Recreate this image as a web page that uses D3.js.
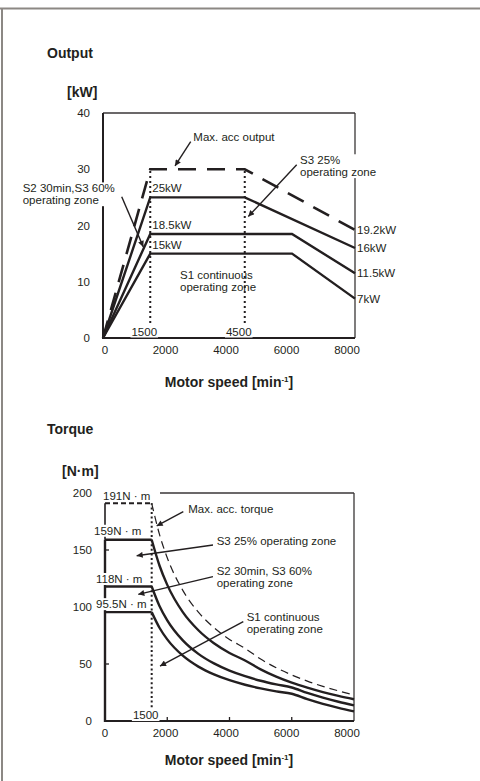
<!DOCTYPE html>
<html><head><meta charset="utf-8">
<script src="https://cdn.jsdelivr.net/npm/d3@7"></script>
<style>
body{margin:0;background:#fff}
svg{display:block}
text{font-family:"Liberation Sans",Arial,sans-serif;fill:#231f20}
</style>
</head><body>
<svg id="c" width="480" height="781"></svg>
<script>
// ---------- data ----------
const speedTicks = [0, 2000, 4000, 6000, 8000];
const outYTicks = [0, 10, 20, 30, 40];
const tqYTicks = [0, 50, 100, 150, 200];

// Output [min-1, kW]
const outMax = [[0,0],[1500,30],[4500,30],[8000,19.2]];
const outS3  = [[0,0],[1500,25],[4500,25],[8000,16]];
const outS2  = [[0,0],[1500,18.5],[6000,18.5],[8000,11.5]];
const outS1  = [[0,0],[1500,15],[6000,15],[8000,7]];
const outMarks = [1500, 4500];

// Torque [N·m] at speeds
const tqSpeeds = [1500,1750,2000,2500,3000,3500,4000,4500,5000,5500,6000,6500,7000,7500,8000];
const tqMax = [191,163.7,143.2,114.6,95.5,81.9,71.6,63.7,54.3,46.7,40.4,35.0,30.4,26.4,22.9];
const tqS3  = [159,136.4,119.4,95.5,79.6,68.2,59.7,53.1,45.3,38.9,33.6,29.2,25.3,22.0,19.1];
const tqS2  = [118,100.9,88.3,70.7,58.9,50.5,44.2,39.3,35.3,32.1,29.4,24.6,20.5,16.9,13.7];
const tqS1  = [95.5,81.8,71.6,57.3,47.7,40.9,35.8,31.8,28.6,26.0,23.9,19.1,15.0,11.5,8.4];
const tqLabels = ['191N · m','159N · m','118N · m','95.5N · m'];
const tqMark = 1500;

// annotations: [text lines], text pos (data), arrow from / to (data)
const outNotes = [
  {lines:['Max. acc output'], at:[2867,35.7], from:[2784,34.9], to:[2286,30.6]},
  {lines:['S3 25%','operating zone'], at:[6254,31.6], from:[6149,30.8], to:[4613,21.6], bg:true},
  {lines:['S2 30min,S3 60%','operating zone'], at:[-2549,26.6], from:[594,25.1], to:[1279,16.2], bg:true},
  {lines:['S1 continuous','operating zone'], at:[2444,11.2]}
];
const tqNotes = [
  {lines:['Max. acc. torque'], at:[2676,185.7], from:[2516,183.6], to:[1661,171.1]},
  {lines:['S3 25% operating zone'], at:[3589,158.2], from:[3470,154.4], to:[1018,145]},
  {lines:['S2 30min, S3 60%','operating zone'], at:[3589,131.8], from:[3470,126.6], to:[1070,111.1]},
  {lines:['S1 continuous','operating zone'], at:[4553,91.0], from:[4443,87.1], to:[1767,48.2]}
];

// ---------- drawing ----------
const INK = '#231f20';
const svg = d3.select('#c');
const defs = svg.append('defs');
defs.append('marker').attr('id','ah').attr('viewBox','0 0 10 10')
  .attr('refX',10).attr('refY',5).attr('markerWidth',9).attr('markerHeight',6)
  .attr('markerUnits','userSpaceOnUse').attr('orient','auto')
  .append('path').attr('d','M0,0L10,5L0,10z').attr('fill',INK);

// page frame
svg.append('line').attr('x1',0).attr('x2',480).attr('y1',8.5).attr('y2',8.5)
  .attr('stroke','#8c8884').attr('stroke-width',2);
svg.append('line').attr('x1',2).attr('x2',2).attr('y1',8).attr('y2',781)
  .attr('stroke','#8c8884').attr('stroke-width',2);

function addText(g, x, y, lines, o = {}) {
  const size = o.size || 11.5, lh = o.lh || 11.8;
  const t = g.append('text').attr('x', x).attr('y', y)
    .attr('font-size', size).attr('font-weight', o.weight || 'normal')
    .attr('text-anchor', o.anchor || 'start');
  lines.forEach((s, i) => t.append('tspan').attr('x', x)
    .attr('dy', i === 0 ? '0.35em' : lh).text(s));
  if (o.bg) {
    const b = t.node().getBBox();
    g.insert('rect', () => t.node()).attr('x', b.x - 1).attr('y', b.y)
      .attr('width', b.width + 2).attr('height', b.height).attr('fill', '#fff');
  }
  return t;
}
function arrow(g, x1, y1, x2, y2) {
  g.append('line').attr('x1',x1).attr('y1',y1).attr('x2',x2).attr('y2',y2)
    .attr('stroke',INK).attr('stroke-width',1.4).attr('marker-end','url(#ah)');
}
function xTitle(g, cx, y) {
  const t = g.append('text').attr('x',cx).attr('y',y).attr('dy','0.35em')
    .attr('text-anchor','middle').attr('font-size',14).attr('font-weight','bold');
  t.append('tspan').text('Motor speed [min');
  t.append('tspan').attr('font-size',8).attr('dy',-5).text('-1');
  t.append('tspan').attr('dy',5).text(']');
}
function frame(g, x, y, xd, yd, opts) {
  const [x0,x1] = xd.map(x), [y0,y1] = yd.map(y);
  g.append('line').attr('x1',opts.topStart ?? x0).attr('x2',x1).attr('y1',y1).attr('y2',y1)
    .attr('stroke','#3a3637').attr('stroke-width',1.3);
  g.append('line').attr('x1',x1).attr('x2',x1).attr('y1',y1).attr('y2',y0)
    .attr('stroke','#3a3637').attr('stroke-width',1.3);
  g.append('line').attr('x1',x0-1).attr('x2',x1).attr('y1',y0).attr('y2',y0)
    .attr('stroke',INK).attr('stroke-width',2.2);
}

// ================= OUTPUT =================
{
  const g = svg.append('g');
  const x = d3.scaleLinear([0, 8000], [103, 355]);
  const xl = d3.scaleLinear([0, 8000], [105, 347]);
  const y = d3.scaleLinear([0, 40], [338, 113]);

  addText(g, 47, 53, ['Output'], {size:14, weight:'bold'});
  addText(g, 67, 92, ['[kW]'], {size:14, weight:'bold'});

  frame(g, x, y, [0,8000], [0,40], {});
  g.append('line').attr('x1',x(0)).attr('x2',x(0)).attr('y1',y(0)).attr('y2',y(40))
    .attr('stroke',INK).attr('stroke-width',2);

  outYTicks.forEach(v => addText(g, 90, y(v), [String(v)], {anchor:'end'}));
  speedTicks.forEach(v => addText(g, xl(v), 350, [String(v)], {anchor:'middle'}));

  // dotted markers
  outMarks.forEach(m => {
    g.append('line').attr('x1',x(m)).attr('x2',x(m)).attr('y1',y(0)).attr('y2',y(30))
      .attr('stroke',INK).attr('stroke-width',2).attr('stroke-dasharray','2,3');
    addText(g, x(m) - 6, 331.5, [String(m)], {anchor:'middle', bg:true});
  });

  const line = d3.line().x(d => x(d[0])).y(d => y(d[1]));
  [outS1, outS2, outS3].forEach(s => g.append('path').attr('d', line(s))
    .attr('fill','none').attr('stroke',INK).attr('stroke-width',2.4).attr('stroke-linejoin','miter'));
  g.append('path').attr('d', line(outMax)).attr('fill','none').attr('stroke',INK)
    .attr('stroke-width',2.6).attr('stroke-dasharray','18,11');

  // value labels
  [outS3, outS2, outS1].forEach(s => {
    addText(g, x(1500) + 2, y(s[1][1]) - 9, [s[1][1] + 'kW']);
  });
  [outMax, outS3, outS2, outS1].forEach(s => {
    const e = s[s.length - 1];
    addText(g, x(8000) + 2, y(e[1]), [e[1] + 'kW']);
  });

  outNotes.forEach(n => {
    addText(g, x(n.at[0]), y(n.at[1]), n.lines, {bg: n.bg});
    if (n.from) arrow(g, x(n.from[0]), y(n.from[1]), x(n.to[0]), y(n.to[1]));
  });

  xTitle(g, 229, 382);
}

// ================= TORQUE =================
{
  const g = svg.append('g');
  const x = d3.scaleLinear([0, 8000], [105, 354]);
  const xl = d3.scaleLinear([0, 8000], [105, 347]);
  const y = d3.scaleLinear([0, 200], [721, 493]);

  addText(g, 47, 429, ['Torque'], {size:14, weight:'bold'});
  addText(g, 62, 471, ['[N·m]'], {size:14, weight:'bold'});

  frame(g, x, y, [0,8000], [0,200], {topStart: 160});

  tqYTicks.forEach(v => addText(g, 92, y(v), [String(v)], {anchor:'end'}));
  speedTicks.forEach(v => addText(g, xl(v), 732.5, [String(v)], {anchor:'middle'}));
  // small inner ticks
  speedTicks.slice(1, 4).forEach(v => g.append('line').attr('x1',x(v)).attr('x2',x(v))
    .attr('y1',y(0)).attr('y2',y(0)-4).attr('stroke',INK).attr('stroke-width',1.3));
  [50, 150].forEach(v => g.append('line').attr('x1',x(0)).attr('x2',x(0)+4)
    .attr('y1',y(v)).attr('y2',y(v)).attr('stroke',INK).attr('stroke-width',1.3));

  // left axis (vertical parts of curves)
  g.append('line').attr('x1',x(0)).attr('x2',x(0)).attr('y1',y(0)+1).attr('y2',y(159))
    .attr('stroke',INK).attr('stroke-width',2.4);
  g.append('line').attr('x1',x(0)).attr('x2',x(0)).attr('y1',y(159)).attr('y2',y(191))
    .attr('stroke',INK).attr('stroke-width',1.6);

  // dotted marker
  g.append('line').attr('x1',x(tqMark)).attr('x2',x(tqMark)).attr('y1',y(0)).attr('y2',y(191))
    .attr('stroke',INK).attr('stroke-width',2).attr('stroke-dasharray','2,2.6');
  addText(g, x(tqMark) - 6, 715, [String(tqMark)], {anchor:'middle', bg:true});

  const curve = d3.line().x(d => x(d[0])).y(d => y(d[1])).curve(d3.curveMonotoneX);
  const flat = d3.line().x(d => x(d[0])).y(d => y(d[1]));
  const series = [tqS1, tqS2, tqS3];
  series.forEach(s => {
    const pts = tqSpeeds.map((v, i) => [v, s[i]]);
    g.append('path').attr('d', flat([[0, s[0]], [tqSpeeds[0], s[0]]]))
      .attr('fill','none').attr('stroke',INK).attr('stroke-width',2.4);
    g.append('path').attr('d', curve(pts))
      .attr('fill','none').attr('stroke',INK).attr('stroke-width',2.4);
  });
  g.append('path').attr('d', flat([[0, tqMax[0]], [tqSpeeds[0], tqMax[0]]]))
    .attr('fill','none').attr('stroke',INK).attr('stroke-width',1.8).attr('stroke-dasharray','5,3');
  g.append('path').attr('d', curve(tqSpeeds.map((v, i) => [v, tqMax[i]])))
    .attr('fill','none').attr('stroke',INK).attr('stroke-width',1.2).attr('stroke-dasharray','8,5');

  // value labels with white background
  const lv = [tqMax[0], tqS3[0], tqS2[0], tqS1[0]];
  const ldx = [-2, -11, -9, -9];
  const ldy = [-7.6, -9, -7.5, -8];
  tqLabels.forEach((t, i) => addText(g, x(0) + ldx[i], y(lv[i]) + ldy[i], [t], {bg:true}));

  tqNotes.forEach(n => {
    addText(g, x(n.at[0]), y(n.at[1]), n.lines);
    if (n.from) arrow(g, x(n.from[0]), y(n.from[1]), x(n.to[0]), y(n.to[1]));
  });

  xTitle(g, 229, 760);
}
</script>
</body></html>
